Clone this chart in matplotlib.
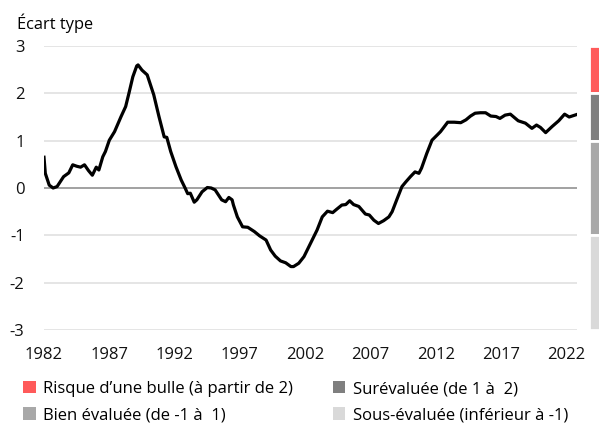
import matplotlib.pyplot as plt
from matplotlib.patches import Patch

plt.rcParams['font.family'] = ['Open Sans', 'DejaVu Sans']
plt.rcParams['axes.unicode_minus'] = False

# valeurs (année décimale, écart type)
annees = [1982.0, 1982.1, 1982.4, 1982.7, 1983.0, 1983.5, 1983.9, 1984.2, 1984.5, 1984.8,
          1985.1, 1985.4, 1985.7, 1986.0, 1986.2, 1986.5, 1986.7, 1987.0, 1987.4, 1987.9,
          1988.25, 1988.5, 1988.8, 1989.1, 1989.2, 1989.5, 1989.9, 1990.4, 1990.8, 1991.2,
          1991.4, 1991.7, 1992.1, 1992.5, 1992.8, 1993.0, 1993.2, 1993.5, 1993.7, 1994.1,
          1994.5, 1994.8, 1995.1, 1995.6, 1995.9, 1996.15, 1996.4, 1996.5, 1996.8, 1997.2,
          1997.6, 1998.1, 1998.5, 1999.0, 1999.35, 1999.7, 2000.1, 2000.5, 2000.9, 2001.1,
          2001.5, 2001.9, 2002.4, 2002.9, 2003.3, 2003.7, 2004.1, 2004.4, 2004.8, 2005.1,
          2005.4, 2005.7, 2006.1, 2006.6, 2006.9, 2007.25, 2007.6, 2008.0, 2008.4, 2008.65,
          2009.0, 2009.4, 2009.7, 2010.05, 2010.4, 2010.7, 2010.9, 2011.3, 2011.7, 2012.1,
          2012.35, 2012.6, 2012.9, 2013.4, 2013.9, 2014.3, 2014.65, 2015.0, 2015.4, 2015.8,
          2016.2, 2016.6, 2016.9, 2017.3, 2017.7, 2018.3, 2018.85, 2019.35, 2019.7, 2020.0,
          2020.4, 2020.9, 2021.4, 2021.85, 2022.2, 2022.75]
ecart = [0.65, 0.31, 0.06, 0.0, 0.03, 0.24, 0.32, 0.49, 0.46, 0.44,
         0.49, 0.37, 0.27, 0.44, 0.38, 0.66, 0.77, 1.01, 1.19, 1.51,
         1.72, 2.0, 2.35, 2.58, 2.6, 2.49, 2.39, 1.97, 1.51, 1.08,
         1.07, 0.77, 0.45, 0.17, 0.0, -0.12, -0.11, -0.30, -0.25, -0.08,
         0.01, 0.0, -0.04, -0.25, -0.29, -0.20, -0.25, -0.36, -0.61, -0.82,
         -0.83, -0.92, -1.01, -1.10, -1.31, -1.44, -1.54, -1.58, -1.66, -1.66,
         -1.59, -1.45, -1.17, -0.89, -0.61, -0.49, -0.52, -0.45, -0.36, -0.35,
         -0.27, -0.35, -0.39, -0.55, -0.57, -0.68, -0.75, -0.69, -0.61, -0.50,
         -0.25, 0.03, 0.13, 0.24, 0.34, 0.31, 0.42, 0.73, 1.01, 1.12,
         1.19, 1.28, 1.39, 1.39, 1.38, 1.44, 1.52, 1.58, 1.59, 1.59,
         1.52, 1.51, 1.47, 1.54, 1.56, 1.42, 1.37, 1.26, 1.33, 1.28,
         1.17, 1.30, 1.42, 1.56, 1.50, 1.55]

xticks = [1982, 1987, 1992, 1997, 2002, 2007, 2012, 2017, 2022]
yticks = [-3, -2, -1, 0, 1, 2, 3]

# zones d'évaluation (bas, haut)
zones_bas = [2, 1, -1, -3]
zones_haut = [3, 2, 1, -1]
zones_couleurs = ['#ff5a5a', '#7f7f7f', '#a8a8a8', '#d9d9d9']
zones_noms = ['Risque d\u2019une bulle (à partir de 2)', 'Surévaluée (de 1 à  2)',
              'Bien évaluée (de -1 à  1)', 'Sous-évaluée (inférieur à -1)']

fig = plt.figure(figsize=(5.99, 4.25), dpi=100)
ax = fig.add_axes([44 / 599, 1 - 330 / 425, 533 / 599, 284 / 425])

for y in yticks:
    ax.axhline(y, color='#9a9a9a' if y == 0 else '#e0e0e0', lw=1.3 if y == 0 else 1.2, zorder=1)
ax.plot(annees, ecart, color='black', lw=2.3, zorder=3, solid_joinstyle='round')

ax.set_xlim(1982, 2022.8)
ax.set_ylim(-3, 3)
ax.set_xticks(xticks)
ax.set_yticks(yticks)
ax.tick_params(length=0, labelsize=12, colors='#111111')
ax.tick_params(axis='y', pad=14)
ax.tick_params(axis='x', pad=12)
for s in ax.spines.values():
    s.set_visible(False)

# barre de zones à droite
axz = fig.add_axes([589 / 599, 1 - 330 / 425, 12 / 599, 284 / 425])
hauteurs = [h - b for h, b in zip(zones_haut, zones_bas)]
axz.bar([0] * 4, hauteurs, bottom=zones_bas, width=1, color=zones_couleurs,
        edgecolor='white', linewidth=2)
axz.set_xlim(-0.5, 0.5)
axz.set_ylim(-3, 3)
axz.axis('off')

fig.text(17 / 599, 1 - 23 / 425, 'Écart type', fontsize=11.8, va='center', ha='left')

ordre = [0, 2, 1, 3]
poignees = [Patch(facecolor=zones_couleurs[i], edgecolor='none') for i in ordre]
fig.legend(poignees, [zones_noms[i] for i in ordre], ncol=2, frameon=False,
           loc='upper left', bbox_to_anchor=(23 / 599, 1 - 381 / 425),
           fontsize=12, handlelength=0.75, handleheight=0.75, handletextpad=0.45,
           columnspacing=2.4, labelspacing=0.62, borderaxespad=0, borderpad=0)

fig.savefig('out.png', dpi=100)
